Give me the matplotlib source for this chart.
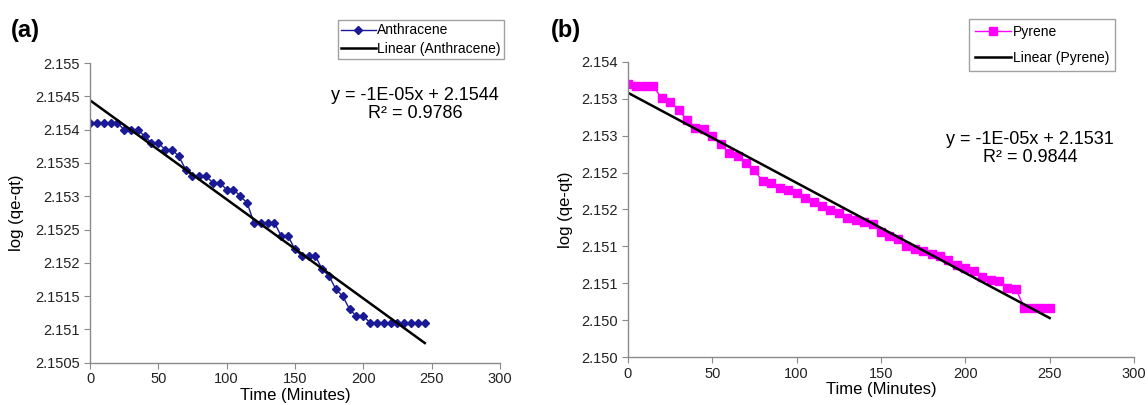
import numpy as np
import matplotlib
matplotlib.use("Agg")
import matplotlib.pyplot as plt

plt.rcParams["font.family"] = ["Liberation Sans", "DejaVu Sans"]

# (a) Anthracene
t_anth = np.arange(0, 250, 5)
anth = [2.1541, 2.1541, 2.1541, 2.1541, 2.1541, 2.1540, 2.1540, 2.1540, 2.1539, 2.1538,
        2.1538, 2.1537, 2.1537, 2.1536, 2.1534, 2.1533, 2.1533, 2.1533, 2.1532, 2.1532,
        2.1531, 2.1531, 2.1530, 2.1529, 2.1526, 2.1526, 2.1526, 2.1526, 2.1524, 2.1524,
        2.1522, 2.1521, 2.1521, 2.1521, 2.1519, 2.1518, 2.1516, 2.1515, 2.1513, 2.1512,
        2.1512, 2.1511, 2.1511, 2.1511, 2.1511, 2.1511, 2.1511, 2.1511, 2.1511, 2.1511]
yticks_a = [2.1505, 2.151, 2.1515, 2.152, 2.1525, 2.153, 2.1535, 2.154, 2.1545, 2.155]
ylabels_a = ["2.1505", "2.151", "2.1515", "2.152", "2.1525", "2.153", "2.1535", "2.154", "2.1545", "2.155"]

# (b) Pyrene
t_pyr = np.arange(0, 255, 5)
pyr = [2.15370, 2.15367, 2.15367, 2.15367, 2.15351, 2.15346, 2.15335, 2.15321, 2.15311, 2.15309,
       2.15299, 2.15289, 2.15277, 2.15273, 2.15263, 2.15253, 2.15238, 2.15236, 2.15229, 2.15226,
       2.15223, 2.15215, 2.15210, 2.15205, 2.15199, 2.15195, 2.15188, 2.15186, 2.15183, 2.15180,
       2.15170, 2.15164, 2.15160, 2.15150, 2.15147, 2.15144, 2.15140, 2.15137, 2.15132, 2.15125,
       2.15120, 2.15116, 2.15108, 2.15104, 2.15103, 2.15094, 2.15092, 2.15067, 2.15066, 2.15067,
       2.15066]
yticks_b = [2.150, 2.1505, 2.151, 2.1515, 2.152, 2.1525, 2.153, 2.1535, 2.154]
ylabels_b = ["2.150", "2.150", "2.151", "2.151", "2.152", "2.152", "2.153", "2.153", "2.154"]

xticks = [0, 50, 100, 150, 200, 250, 300]

fig = plt.figure(figsize=(11.48, 4.05), dpi=100)
ax1 = fig.add_axes([0.0784, 0.1044, 0.3571, 0.7400])
ax2 = fig.add_axes([0.5470, 0.1185, 0.4408, 0.7285])

spine_c = "#8a8a8a"


def style(ax, yticks, ylabels, ylim, ylabpad):
    for s in ["top", "right"]:
        ax.spines[s].set_visible(False)
    for s in ["left", "bottom"]:
        ax.spines[s].set_color(spine_c)
        ax.spines[s].set_linewidth(1.0)
    ax.set_xlim(0, 300)
    ax.set_ylim(*ylim)
    ax.set_xticks(xticks)
    ax.set_yticks(yticks)
    ax.set_yticklabels(ylabels)
    ax.tick_params(direction="out", length=4, color=spine_c, labelsize=10.5, colors="#222222")
    ax.tick_params(axis="x", pad=3)
    ax.set_xlabel("Time (Minutes)", fontsize=12, labelpad=1)
    ax.set_ylabel("log (qe-qt)", fontsize=12, labelpad=ylabpad)


# panel a
fit_a = np.polyfit(t_anth, anth, 1)
ta = np.array([t_anth[0], t_anth[-1]])
ax1.plot(t_anth, anth, color="#1a1a96", lw=1.0, marker="D", ms=4.5, label="Anthracene")
ax1.plot(ta, np.polyval(fit_a, ta), color="black", lw=1.8, label="Linear (Anthracene)")
style(ax1, yticks_a, ylabels_a, (2.1505, 2.155), 8)
ax1.legend(loc="upper left", bbox_to_anchor=(0.288, 0.968), bbox_transform=fig.transFigure,
           fontsize=10, frameon=True, fancybox=False, edgecolor=spine_c, borderpad=0.25,
           labelspacing=0.3, handlelength=2.5, handletextpad=0.1)
ax1.text(415 / 1148, 1 - 95 / 405, "y = -1E-05x + 2.1544", transform=fig.transFigure,
         ha="center", va="center", fontsize=13)
ax1.text(415 / 1148, 1 - 113 / 405, "R² = 0.9786", transform=fig.transFigure,
         ha="center", va="center", fontsize=13)
fig.text(25 / 1148, 1 - 30 / 405, "(a)", fontsize=17, fontweight="bold", ha="center", va="center")

# panel b
fit_b = np.polyfit(t_pyr, pyr, 1)
tb = np.array([t_pyr[0], t_pyr[-1]])
ax2.plot(t_pyr, pyr, color="#ff00ff", lw=1.0, marker="s", ms=5.5, label="Pyrene")
ax2.plot(tb, np.polyval(fit_b, tb), color="black", lw=1.8, label="Linear (Pyrene)")
style(ax2, yticks_b, ylabels_b, (2.150, 2.154), 6)
ax2.legend(loc="upper left", bbox_to_anchor=(0.838, 0.970), bbox_transform=fig.transFigure,
           fontsize=10, frameon=True, fancybox=False, edgecolor=spine_c, borderpad=0.45,
           labelspacing=0.85, handlelength=2.6, handletextpad=0.1)
ax2.text(1030 / 1148, 1 - 140 / 405, "y = -1E-05x + 2.1531", transform=fig.transFigure,
         ha="center", va="center", fontsize=13)
ax2.text(1030 / 1148, 1 - 157 / 405, "R² = 0.9844", transform=fig.transFigure,
         ha="center", va="center", fontsize=13)
fig.text(566 / 1148, 1 - 30 / 405, "(b)", fontsize=17, fontweight="bold", ha="center", va="center")

fig.savefig("out.png", dpi=100)
